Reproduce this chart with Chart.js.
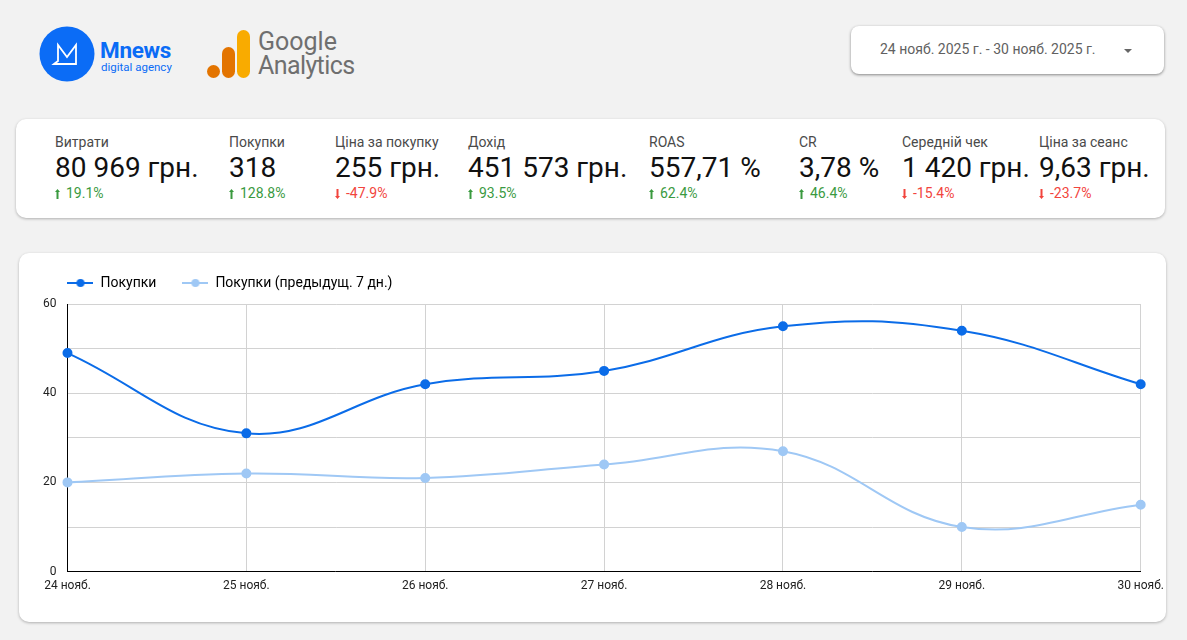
<!DOCTYPE html>
<html>
<head>
<meta charset="utf-8">
<script src="https://cdn.jsdelivr.net/npm/chart.js@4.4.1/dist/chart.umd.min.js"></script>
<style>
  body { margin: 0; background: #f2f2f2; font-family: Roboto, "Noto Sans", sans-serif; width: 1187px; height: 640px; position: relative; overflow: hidden; }
  .card { position: absolute; background: #fff; border-radius: 10px; box-shadow: 0 1px 3px rgba(0,0,0,0.28); }
  .kpi { position: absolute; top: 0; }
  .kpi .lbl { position: absolute; top: 15px; font-size: 14px; color: #4a4a4a; white-space: nowrap; }
  .kpi .val { position: absolute; top: 32px; font-size: 28px; color: #111; white-space: nowrap; }
  .kpi .chg { position: absolute; top: 66px; font-size: 14px; white-space: nowrap; }
  .up { color: #3a9a3f; }
  .down { color: #f2453d; }
  .chg svg { vertical-align: -1px; margin-right: 6px; }
  #dates { left: 851px; top: 26px; width: 313px; height: 48px; border-radius: 8px; box-shadow: 0 1px 3px rgba(0,0,0,0.45); }
  #dates span { position: absolute; left: 29px; top: 15px; font-size: 14px; color: #616161; }
  #dates i { position: absolute; left: 273px; top: 23px; width: 0; height: 0; border-left: 4px solid transparent; border-right: 4px solid transparent; border-top: 4px solid #666; }
</style>
</head>
<body>

<svg style="position:absolute;left:39px;top:26px" width="56" height="56" viewBox="0 0 56 56">
  <circle cx="28" cy="28" r="27.5" fill="#0b6cf6"/>
  <path d="M15 38 L19 35 L19 19 L28 31 L37 19 L37 38 Z" fill="none" stroke="#fff" stroke-width="1.8" stroke-linejoin="miter"/>
</svg>
<div style="position:absolute;left:100px;top:37px;font-size:22.5px;font-weight:bold;color:#0b6cf6;letter-spacing:-0.3px">Mnews</div>
<div style="position:absolute;left:101px;top:60px;font-size:11.5px;color:#0b6cf6">digital agency</div>

<svg style="position:absolute;left:206px;top:29px" width="46" height="50" viewBox="0 0 46 50">
  <circle cx="7.5" cy="42.5" r="6.5" fill="#e37400"/>
  <rect x="16" y="18" width="13" height="31" rx="6.5" fill="#e37400"/>
  <rect x="31" y="1" width="13" height="48" rx="6.5" fill="#f9ab00"/>
</svg>
<div style="position:absolute;left:258px;top:29px;font-size:25px;line-height:26px;color:#6f6f6f">Google</div>
<div style="position:absolute;left:258px;top:53px;font-size:25px;line-height:26px;color:#6f6f6f;letter-spacing:-0.6px">Analytics</div>

<div class="card" id="dates"><span>24 нояб. 2025 г. - 30 нояб. 2025 г.</span><i></i></div>

<div class="card" id="kpis" style="left:16px;top:119px;width:1149px;height:99px"></div>

<div class="card" style="left:19px;top:253px;width:1147px;height:369px">
  <div style="position:absolute;left:13px;top:-3px;width:1139px;height:370px">
    <canvas id="myChart"></canvas>
  </div>
</div>

<script>
// chart data
const days = ["24 нояб.", "25 нояб.", "26 нояб.", "27 нояб.", "28 нояб.", "29 нояб.", "30 нояб."];
const purchases = [49, 31, 42, 45, 55, 54, 42];
const purchasesPrev = [20, 22, 21, 24, 27, 10, 15];
const seriesNames = ["Покупки", "Покупки (предыдущ. 7 дн.)"];
const yTicks = [0, 20, 40, 60];

// kpi cards
const kpiNames = ["Витрати", "Покупки", "Ціна за покупку", "Дохід", "ROAS", "CR", "Середній чек", "Ціна за сеанс"];
const kpiValues = ["80 969 грн.", "318", "255 грн.", "451 573 грн.", "557,71 %", "3,78 %", "1 420 грн.", "9,63 грн."];
const kpiChanges = [19.1, 128.8, -47.9, 93.5, 62.4, 46.4, -15.4, -23.7];
const kpiX = [39, 213, 319, 452, 633, 783, 886, 1023];

const upIcon = '<svg width="5" height="10" viewBox="0 0 5 10"><path d="M2.5 0 L5 3 L3.5 3 L3.5 10 L1.5 10 L1.5 3 L0 3 Z" fill="#3a9a3f"/></svg>';
const downIcon = '<svg width="5" height="10" viewBox="0 0 5 10"><path d="M2.5 10 L5 7 L3.5 7 L3.5 0 L1.5 0 L1.5 7 L0 7 Z" fill="#f2453d"/></svg>';

let kpiBox = document.getElementById("kpis");
kpiNames.forEach(function(name, i){
    let d = document.createElement("div");
    d.className = "kpi";
    d.style.left = kpiX[i] + "px";
    let ch = kpiChanges[i];
    let cls = ch >= 0 ? "up" : "down";
    d.innerHTML = `<div class="lbl">${name}</div><div class="val">${kpiValues[i]}</div>` +
        `<div class="chg ${cls}">${ch >= 0 ? upIcon : downIcon}${ch.toFixed(1)}%</div>`;
    kpiBox.appendChild(d);
});

const mainColor = "#0b6ce8";
const prevColor = "#9fc8f5";

function legendMarker(color){
    let c = document.createElement("canvas");
    c.width = 26; c.height = 10;
    let g = c.getContext("2d");
    g.strokeStyle = color;
    g.lineWidth = 2;
    g.beginPath(); g.moveTo(0, 5); g.lineTo(26, 5); g.stroke();
    g.fillStyle = color;
    g.beginPath(); g.arc(13, 5, 4, 0, Math.PI * 2); g.fill();
    return c;
}

// legend starts at the plot's left edge, with a bit more room under it
const legendShift = {
    id: "legendShift",
    beforeLayout(chart){
        const lg = chart.legend;
        if (lg && !lg._extraRoom){
            const fit = lg.fit;
            lg.fit = function(){ fit.call(this); this.height += 4; };
            lg._extraRoom = true;
        }
    },
    afterLayout(chart){
        chart.legend.left = chart.chartArea.left - chart.legend.options.labels.padding;
    }
};

Chart.defaults.font.family = "Roboto, sans-serif";
Chart.defaults.color = "#222";

const ctx = document.getElementById("myChart").getContext("2d");
myChart = new Chart(ctx, {
    type: "line",
    data: {
        labels: days,
        datasets: [{
            label: seriesNames[0],
            data: purchases,
            borderColor: mainColor,
            backgroundColor: mainColor,
            borderWidth: 2,
            pointRadius: 4,
            pointHoverRadius: 4,
            tension: 0.4
        }, {
            label: seriesNames[1],
            data: purchasesPrev,
            borderColor: prevColor,
            backgroundColor: prevColor,
            borderWidth: 2,
            pointRadius: 4,
            pointHoverRadius: 4,
            tension: 0.4
        }]
    },
    options: {
        responsive: true,
        maintainAspectRatio: false,
        animation: false,
        layout: { padding: { left: 0, right: 0, top: 0, bottom: 20 } },
        plugins: {
            tooltip: { enabled: false },
            legend: {
                align: "start",
                labels: {
                    usePointStyle: true,
                    pointStyleWidth: 26,
                    boxHeight: 10,
                    padding: 26,
                    font: { size: 14 },
                    color: "#222",
                    generateLabels: function(chart){
                        return chart.data.datasets.map(function(ds, i){
                            return {
                                text: ds.label,
                                pointStyle: legendMarker(ds.borderColor),
                                fillStyle: ds.borderColor,
                                strokeStyle: ds.borderColor,
                                lineWidth: 0,
                                datasetIndex: i
                            };
                        });
                    }
                }
            }
        },
        scales: {
            x: {
                grid: { color: "#d2d2d2", drawTicks: false },
                border: { color: "#000", width: 1 },
                ticks: { font: { size: 12 }, color: "#222", padding: 7, maxRotation: 0 }
            },
            y: {
                min: 0,
                max: 60,
                grid: { color: "#d2d2d2", drawTicks: false },
                border: { color: "#000", width: 1 },
                ticks: {
                    stepSize: 10,
                    padding: 11,
                    font: { size: 12 },
                    color: "#222",
                    callback: function(v){ return yTicks.includes(v) ? v : ""; }
                }
            }
        }
    },
    plugins: [legendShift]
});
</script>
</body>
</html>
